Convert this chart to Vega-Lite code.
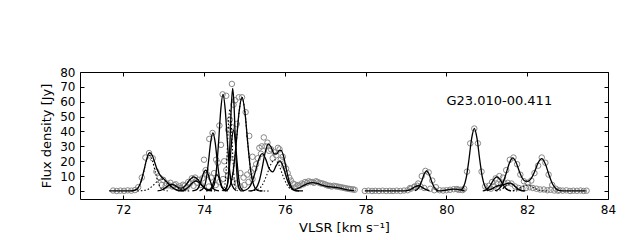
{
  "$schema": "https://vega.github.io/schema/vega-lite/v6.json",
  "width": 528,
  "height": 127,
  "autosize": {"type": "none"},
  "padding": {"left": 80, "top": 72, "right": 32, "bottom": 41},
  "background": "white",
  "config": {
    "font": "DejaVu Sans",
    "view": {"stroke": "#000", "strokeWidth": 1},
    "axis": {"grid": false, "domain": false, "tickColor": "#000", "tickSize": -4, "tickWidth": 1,
      "labelColor": "#000", "labelFont": "DejaVu Sans", "labelFontSize": 12, "labelPadding": 9,
      "labelOverlap": false, "labelFlush": false,
      "titleFont": "DejaVu Sans", "titleFontSize": 13, "titleFontWeight": "normal", "titleColor": "#000"}
  },
  "datasets": {
    "pts": [
      {"v":71.75,"f":0.3},{"v":71.84,"f":0},{"v":71.93,"f":0.2},{"v":72.02,"f":0.1},{"v":72.11,"f":0.4},{"v":72.20,"f":0.2},{"v":72.29,"f":0.6},{"v":72.37,"f":2.5},{"v":72.46,"f":9},{"v":72.55,"f":22.5},{"v":72.64,"f":25.5},{"v":72.73,"f":22},{"v":72.82,"f":13},{"v":72.90,"f":9},{"v":72.99,"f":7.5},{"v":73.08,"f":5},{"v":73.17,"f":5.5},{"v":73.26,"f":4},{"v":73.34,"f":2.5},{"v":73.43,"f":2},{"v":73.52,"f":3.5},{"v":73.61,"f":6},{"v":73.70,"f":8.5},{"v":73.78,"f":9},{"v":73.87,"f":7.5},{"v":73.96,"f":8.5},{"v":74.04,"f":14},{"v":74.13,"f":35},{"v":74.21,"f":39},{"v":74.30,"f":21},{"v":74.38,"f":44},{"v":74.46,"f":65},{"v":74.55,"f":64},{"v":74.64,"f":48},{"v":74.69,"f":72},{"v":74.77,"f":61},{"v":74.86,"f":63},{"v":74.94,"f":63},{"v":75.03,"f":53},{"v":75.12,"f":37},{"v":75.20,"f":23},{"v":75.29,"f":18},{"v":75.37,"f":29},{"v":75.43,"f":30},{"v":75.48,"f":36},{"v":75.57,"f":32.5},{"v":75.66,"f":28},{"v":75.74,"f":26},{"v":75.83,"f":29},{"v":75.90,"f":21},{"v":75.98,"f":17},{"v":76.07,"f":12},{"v":76.15,"f":7},{"v":76.24,"f":4.5},{"v":76.33,"f":4},{"v":76.42,"f":5},{"v":76.50,"f":6},{"v":76.59,"f":6.5},{"v":76.68,"f":6},{"v":76.77,"f":6.5},{"v":76.86,"f":5.5},{"v":76.94,"f":5},{"v":77.03,"f":4},{"v":77.12,"f":3.5},{"v":77.21,"f":3.5},{"v":77.29,"f":3},{"v":77.38,"f":2.5},{"v":77.47,"f":2},{"v":77.56,"f":1.5},{"v":77.64,"f":1.2},{"v":77.73,"f":0.8},
      {"v":72.95,"f":4},{"v":73.05,"f":3.5},{"v":73.13,"f":3.8},{"v":73.22,"f":3},{"v":73.30,"f":4.5},{"v":73.40,"f":3.2},{"v":73.48,"f":4.2},{"v":73.57,"f":2.5},{"v":73.65,"f":5},{"v":73.74,"f":3.5},{"v":73.83,"f":5.5},{"v":73.92,"f":4},{"v":74.00,"f":21},{"v":74.08,"f":11},{"v":74.17,"f":9},{"v":74.25,"f":12},{"v":74.34,"f":19},{"v":74.42,"f":31},{"v":74.50,"f":20},{"v":74.59,"f":10},{"v":74.60,"f":41},{"v":74.68,"f":43},{"v":74.73,"f":58},{"v":74.81,"f":45},{"v":74.90,"f":12},{"v":74.98,"f":9},{"v":75.07,"f":11},{"v":75.16,"f":13},{"v":75.25,"f":15},{"v":75.33,"f":22},{"v":75.41,"f":25},{"v":75.52,"f":30},{"v":75.61,"f":27},{"v":75.70,"f":22},{"v":75.79,"f":24},{"v":75.87,"f":28},{"v":75.95,"f":23},{"v":76.03,"f":15},{"v":76.11,"f":9},{"v":76.20,"f":5},{"v":76.28,"f":3},{"v":74.63,"f":22},{"v":74.72,"f":6},{"v":74.81,"f":5},{"v":74.55,"f":14},{"v":74.47,"f":8},{"v":74.38,"f":6},{"v":74.29,"f":4},{"v":74.12,"f":3},{"v":75.20,"f":8},{"v":75.10,"f":6},{"v":75.00,"f":4},{"v":74.90,"f":3},
      {"v":76.37,"f":3.5},{"v":76.46,"f":4.5},{"v":76.55,"f":5.5},{"v":76.64,"f":6},{"v":76.72,"f":5.5},{"v":76.81,"f":6},{"v":76.90,"f":5},{"v":76.99,"f":4.5},{"v":77.08,"f":3.5},{"v":77.16,"f":3},{"v":77.25,"f":3.2},{"v":77.34,"f":2.8},{"v":77.43,"f":2.3},{"v":77.51,"f":1.8},{"v":77.60,"f":1.4},{"v":77.69,"f":1},
      {"v":77.98,"f":0},{"v":78.07,"f":0.2},{"v":78.16,"f":0},{"v":78.24,"f":0.1},{"v":78.33,"f":0},{"v":78.42,"f":0.2},{"v":78.51,"f":0},{"v":78.60,"f":0.1},{"v":78.68,"f":0},{"v":78.77,"f":0.2},{"v":78.86,"f":0},{"v":78.95,"f":0.3},{"v":79.04,"f":0.5},{"v":79.12,"f":1.5},{"v":79.21,"f":3},{"v":79.30,"f":5},{"v":79.39,"f":10},{"v":79.48,"f":13.5},{"v":79.56,"f":12.5},{"v":79.65,"f":7},{"v":79.74,"f":2.5},{"v":79.83,"f":0.5},{"v":79.92,"f":0.3},{"v":80.00,"f":0.5},{"v":80.09,"f":0.8},{"v":80.18,"f":1.2},{"v":80.26,"f":1.3},{"v":80.35,"f":0.8},{"v":80.44,"f":1.5},{"v":80.51,"f":13},{"v":80.59,"f":32},{"v":80.69,"f":42},{"v":80.78,"f":32},{"v":80.87,"f":13},{"v":80.96,"f":3},{"v":81.05,"f":3.5},{"v":81.13,"f":6},{"v":81.22,"f":8.5},{"v":81.31,"f":10},{"v":81.40,"f":9},{"v":81.48,"f":14},{"v":81.57,"f":21},{"v":81.66,"f":22.5},{"v":81.75,"f":18},{"v":81.83,"f":11},{"v":81.92,"f":6.5},{"v":82.01,"f":5.5},{"v":82.10,"f":7},{"v":82.18,"f":12},{"v":82.27,"f":17},{"v":82.36,"f":22.5},{"v":82.45,"f":19},{"v":82.53,"f":11},{"v":82.62,"f":4},{"v":82.71,"f":1.5},{"v":82.80,"f":0.5},{"v":82.88,"f":0.2},{"v":82.97,"f":0.4},{"v":83.06,"f":0},{"v":83.14,"f":0.2},{"v":83.23,"f":0.1},{"v":83.32,"f":0.3},{"v":83.40,"f":0},{"v":83.47,"f":0.2},
      {"v":79.10,"f":2},{"v":79.20,"f":2.5},{"v":79.28,"f":3.5},{"v":79.36,"f":3},{"v":79.45,"f":2},{"v":81.10,"f":1.5},{"v":81.18,"f":3},{"v":81.27,"f":4.5},{"v":81.35,"f":5},{"v":81.44,"f":5},{"v":81.52,"f":5.5},{"v":81.61,"f":5},{"v":81.70,"f":3},{"v":81.79,"f":2},{"v":81.88,"f":1.5},{"v":81.97,"f":2},{"v":82.06,"f":2.5},{"v":82.14,"f":2},{"v":82.23,"f":1.5},{"v":82.32,"f":1},{"v":82.41,"f":1},{"v":82.50,"f":0.5},{"v":82.58,"f":0.8},{"v":82.67,"f":0.3},{"v":82.76,"f":0.2},{"v":80.30,"f":0.8},{"v":80.40,"f":0.6},{"v":79.60,"f":1.5},{"v":79.70,"f":0.5}
    ],
    "fit": [
      {"s":"s1","v":71.65,"f":0},{"s":"s1","v":72.10,"f":0},{"s":"s1","v":72.20,"f":0.05},{"s":"s1","v":72.30,"f":0.55},{"s":"s1","v":72.38,"f":2.57},{"s":"s1","v":72.45,"f":7.1},{"s":"s1","v":72.52,"f":14.6},{"s":"s1","v":72.58,"f":21.4},{"s":"s1","v":72.65,"f":25.7},{"s":"s1","v":72.72,"f":23.8},{"s":"s1","v":72.78,"f":19.1},{"s":"s1","v":72.85,"f":13.7},{"s":"s1","v":72.92,"f":10.4},{"s":"s1","v":73.00,"f":8.2},{"s":"s1","v":73.10,"f":5.45},{"s":"s1","v":73.20,"f":2.7},{"s":"s1","v":73.30,"f":0.96},{"s":"s1","v":73.40,"f":0.24},{"s":"s1","v":73.50,"f":0.04},
      {"s":"s2","v":72.85,"f":0},{"s":"s2","v":72.95,"f":0.66},{"s":"s2","v":73.05,"f":2.25},{"s":"s2","v":73.125,"f":3.78},{"s":"s2","v":73.20,"f":4.5},{"s":"s2","v":73.275,"f":3.83},{"s":"s2","v":73.35,"f":2.5},{"s":"s2","v":73.45,"f":1.9},{"s":"s2","v":73.55,"f":3.95},{"s":"s2","v":73.65,"f":7.6},{"s":"s2","v":73.75,"f":9.5},{"s":"s2","v":73.85,"f":7.6},{"s":"s2","v":73.95,"f":3.85},{"s":"s2","v":74.05,"f":1.24},{"s":"s2","v":74.15,"f":0.25},
      {"s":"s2b","v":73.35,"f":0},{"s":"s2b","v":73.48,"f":0.42},{"s":"s2b","v":73.56,"f":1.41},{"s":"s2b","v":73.64,"f":3.35},{"s":"s2b","v":73.72,"f":5.63},{"s":"s2b","v":73.80,"f":6.7},{"s":"s2b","v":73.88,"f":5.63},{"s":"s2b","v":73.96,"f":3.35},{"s":"s2b","v":74.04,"f":1.41},{"s":"s2b","v":74.12,"f":0.42},{"s":"s2b","v":74.20,"f":0.07},
      {"s":"s3","v":73.71,"f":0.03},{"s":"s3","v":73.82,"f":0.875},{"s":"s3","v":73.875,"f":2.94},{"s":"s3","v":73.93,"f":7},{"s":"s3","v":73.985,"f":11.8},{"s":"s3","v":74.04,"f":14},{"s":"s3","v":74.095,"f":11.8},{"s":"s3","v":74.15,"f":7},{"s":"s3","v":74.205,"f":2.94},{"s":"s3","v":74.26,"f":0.875},{"s":"s3","v":74.37,"f":0.03},
      {"s":"s4","v":73.89,"f":0.08},{"s":"s4","v":74.00,"f":2.44},{"s":"s4","v":74.055,"f":8.2},{"s":"s4","v":74.11,"f":19.5},{"s":"s4","v":74.165,"f":32.8},{"s":"s4","v":74.22,"f":39},{"s":"s4","v":74.275,"f":32.8},{"s":"s4","v":74.33,"f":19.5},{"s":"s4","v":74.385,"f":8.2},{"s":"s4","v":74.44,"f":2.44},{"s":"s4","v":74.55,"f":0.08},
      {"s":"s5","v":74.05,"f":0.02},{"s":"s5","v":74.14,"f":0.69},{"s":"s5","v":74.185,"f":2.3},{"s":"s5","v":74.23,"f":5.5},{"s":"s5","v":74.275,"f":9.25},{"s":"s5","v":74.32,"f":11},{"s":"s5","v":74.365,"f":9.25},{"s":"s5","v":74.41,"f":5.5},{"s":"s5","v":74.455,"f":2.3},{"s":"s5","v":74.50,"f":0.69},{"s":"s5","v":74.59,"f":0.02},
      {"s":"s6","v":74.14,"f":0.13},{"s":"s6","v":74.25,"f":4.06},{"s":"s6","v":74.305,"f":13.65},{"s":"s6","v":74.36,"f":32.5},{"s":"s6","v":74.415,"f":54.7},{"s":"s6","v":74.47,"f":65},{"s":"s6","v":74.525,"f":54.7},{"s":"s6","v":74.58,"f":32.5},{"s":"s6","v":74.635,"f":13.65},{"s":"s6","v":74.69,"f":4.06},{"s":"s6","v":74.80,"f":0.13},
      {"s":"s7","v":74.515,"f":0.13},{"s":"s7","v":74.58,"f":4.3},{"s":"s7","v":74.6125,"f":14.5},{"s":"s7","v":74.645,"f":34.5},{"s":"s7","v":74.6775,"f":58},{"s":"s7","v":74.71,"f":69},{"s":"s7","v":74.7425,"f":58},{"s":"s7","v":74.775,"f":34.5},{"s":"s7","v":74.8075,"f":14.5},{"s":"s7","v":74.84,"f":4.3},{"s":"s7","v":74.905,"f":0.13},
      {"s":"s8","v":74.475,"f":0.08},{"s":"s8","v":74.56,"f":2.56},{"s":"s8","v":74.6025,"f":8.6},{"s":"s8","v":74.645,"f":20.5},{"s":"s8","v":74.6875,"f":34.5},{"s":"s8","v":74.73,"f":41},{"s":"s8","v":74.7725,"f":34.5},{"s":"s8","v":74.815,"f":20.5},{"s":"s8","v":74.8575,"f":8.6},{"s":"s8","v":74.90,"f":2.56},{"s":"s8","v":74.985,"f":0.08},
      {"s":"s9","v":74.505,"f":0.08},{"s":"s9","v":74.5775,"f":0.83},{"s":"s9","v":74.65,"f":3.94},{"s":"s9","v":74.7225,"f":13.2},{"s":"s9","v":74.795,"f":31.5},{"s":"s9","v":74.8675,"f":53},{"s":"s9","v":74.94,"f":63},{"s":"s9","v":75.0125,"f":53},{"s":"s9","v":75.085,"f":31.5},{"s":"s9","v":75.1575,"f":13.2},{"s":"s9","v":75.23,"f":3.94},{"s":"s9","v":75.3025,"f":0.83},{"s":"s9","v":75.375,"f":0.08},{"s":"s9","v":75.45,"f":0},
      {"s":"s10","v":74.90,"f":0.03},{"s":"s10","v":74.99,"f":0.26},{"s":"s10","v":75.09,"f":1.56},{"s":"s10","v":75.1775,"f":5.25},{"s":"s10","v":75.265,"f":12.5},{"s":"s10","v":75.3525,"f":21},{"s":"s10","v":75.44,"f":25.05},{"s":"s10","v":75.5275,"f":21.4},{"s":"s10","v":75.615,"f":14.8},{"s":"s10","v":75.7025,"f":12.85},{"s":"s10","v":75.79,"f":17.2},{"s":"s10","v":75.88,"f":20.3},{"s":"s10","v":75.965,"f":16},{"s":"s10","v":76.05,"f":8.2},{"s":"s10","v":76.14,"f":2.5},{"s":"s10","v":76.25,"f":0.3},{"s":"s10","v":76.35,"f":0},
      {"s":"s11","v":75.10,"f":0},{"s":"s11","v":75.20,"f":0.28},{"s":"s11","v":75.29,"f":1.94},{"s":"s11","v":75.365,"f":6.5},{"s":"s11","v":75.44,"f":15.5},{"s":"s11","v":75.515,"f":26.1},{"s":"s11","v":75.59,"f":31.7},{"s":"s11","v":75.665,"f":29.2},{"s":"s11","v":75.74,"f":24.9},{"s":"s11","v":75.80,"f":25.0},{"s":"s11","v":75.86,"f":27.1},{"s":"s11","v":75.91,"f":27.3},{"s":"s11","v":75.97,"f":23.2},{"s":"s11","v":76.04,"f":14.3},{"s":"s11","v":76.11,"f":6.3},{"s":"s11","v":76.18,"f":2.0},{"s":"s11","v":76.28,"f":0.2},{"s":"s11","v":76.45,"f":0},
      {"s":"s12","v":76.25,"f":1.0},{"s":"s12","v":76.35,"f":2.0},{"s":"s12","v":76.45,"f":3.4},{"s":"s12","v":76.55,"f":4.7},{"s":"s12","v":76.68,"f":5.56},{"s":"s12","v":76.80,"f":5.05},{"s":"s12","v":76.92,"f":3.9},{"s":"s12","v":77.05,"f":3.0},{"s":"s12","v":77.18,"f":2.6},{"s":"s12","v":77.30,"f":2.3},{"s":"s12","v":77.42,"f":1.6},{"s":"s12","v":77.55,"f":0.81},{"s":"s12","v":77.72,"f":0.19},
      {"s":"s13","v":77.98,"f":0},{"s":"s13","v":78.60,"f":0},{"s":"s13","v":78.95,"f":0.05},{"s":"s13","v":79.02,"f":0.22},{"s":"s13","v":79.09,"f":0.74},{"s":"s13","v":79.16,"f":1.75},{"s":"s13","v":79.23,"f":2.94},{"s":"s13","v":79.30,"f":3.5},{"s":"s13","v":79.37,"f":2.94},{"s":"s13","v":79.44,"f":1.75},{"s":"s13","v":79.51,"f":0.74},{"s":"s13","v":79.58,"f":0.22},
      {"s":"s14","v":79.22,"f":0.23},{"s":"s14","v":79.27,"f":0.84},{"s":"s14","v":79.33,"f":2.84},{"s":"s14","v":79.39,"f":6.75},{"s":"s14","v":79.45,"f":11.35},{"s":"s14","v":79.51,"f":13.5},{"s":"s14","v":79.57,"f":11.35},{"s":"s14","v":79.63,"f":6.75},{"s":"s14","v":79.69,"f":2.84},{"s":"s14","v":79.75,"f":0.84},{"s":"s14","v":79.80,"f":0.2},
      {"s":"s15","v":79.75,"f":0},{"s":"s15","v":79.85,"f":0.1},{"s":"s15","v":79.95,"f":0.39},{"s":"s15","v":80.05,"f":0.89},{"s":"s15","v":80.18,"f":1.3},{"s":"s15","v":80.30,"f":0.94},{"s":"s15","v":80.40,"f":0.43},{"s":"s15","v":80.45,"f":0.3},
      {"s":"s16","v":80.35,"f":0.5},{"s":"s16","v":80.4225,"f":2.6},{"s":"s16","v":80.49,"f":8.8},{"s":"s16","v":80.5575,"f":21},{"s":"s16","v":80.625,"f":35.3},{"s":"s16","v":80.69,"f":42},{"s":"s16","v":80.7575,"f":35.3},{"s":"s16","v":80.825,"f":21},{"s":"s16","v":80.8925,"f":8.8},{"s":"s16","v":80.96,"f":2.6},{"s":"s16","v":81.03,"f":0.5},
      {"s":"s17","v":80.90,"f":0.1},{"s":"s17","v":80.97,"f":0.59},{"s":"s17","v":81.04,"f":2.0},{"s":"s17","v":81.11,"f":4.75},{"s":"s17","v":81.18,"f":8.0},{"s":"s17","v":81.25,"f":9.5},{"s":"s17","v":81.32,"f":8.0},{"s":"s17","v":81.39,"f":4.75},{"s":"s17","v":81.46,"f":2.0},{"s":"s17","v":81.53,"f":0.59},{"s":"s17","v":81.60,"f":0.12},
      {"s":"s18","v":81.00,"f":0.22},{"s":"s18","v":81.10,"f":1.02},{"s":"s18","v":81.20,"f":2.6},{"s":"s18","v":81.30,"f":3.81},{"s":"s18","v":81.38,"f":4.08},{"s":"s18","v":81.46,"f":4.6},{"s":"s18","v":81.53,"f":5.27},{"s":"s18","v":81.58,"f":5.31},{"s":"s18","v":81.65,"f":4.3},{"s":"s18","v":81.72,"f":2.5},{"s":"s18","v":81.80,"f":0.9},{"s":"s18","v":81.88,"f":0.2},{"s":"s18","v":81.95,"f":0.05},
      {"s":"s19","v":81.20,"f":0.21},{"s":"s19","v":81.30,"f":1.375},{"s":"s19","v":81.385,"f":4.62},{"s":"s19","v":81.47,"f":11},{"s":"s19","v":81.555,"f":18.55},{"s":"s19","v":81.64,"f":22.2},{"s":"s19","v":81.725,"f":19.2},{"s":"s19","v":81.81,"f":12.8},{"s":"s19","v":81.88,"f":8.55},{"s":"s19","v":81.95,"f":6.6},{"s":"s19","v":82.02,"f":6.5},{"s":"s19","v":82.10,"f":8.4},{"s":"s19","v":82.18,"f":12.7},{"s":"s19","v":82.27,"f":18.9},{"s":"s19","v":82.36,"f":21.7},{"s":"s19","v":82.45,"f":18.1},{"s":"s19","v":82.54,"f":10.75},{"s":"s19","v":82.63,"f":4.5},{"s":"s19","v":82.72,"f":1.34},{"s":"s19","v":82.81,"f":0.28},{"s":"s19","v":82.95,"f":0.01},{"s":"s19","v":83.10,"f":0},{"s":"s19","v":83.45,"f":0}
    ],
    "comp": [
      {"s":"d1","v":72.20,"f":0.05},{"s":"d1","v":72.35,"f":1.5},{"s":"d1","v":72.425,"f":5.0},{"s":"d1","v":72.50,"f":12},{"s":"d1","v":72.575,"f":20.2},{"s":"d1","v":72.65,"f":24},{"s":"d1","v":72.725,"f":20.2},{"s":"d1","v":72.80,"f":12},{"s":"d1","v":72.875,"f":5.0},{"s":"d1","v":72.95,"f":1.5},{"s":"d1","v":73.10,"f":0.05},
      {"s":"d2","v":72.35,"f":0.02},{"s":"d2","v":72.55,"f":0.5},{"s":"d2","v":72.65,"f":1.68},{"s":"d2","v":72.75,"f":4.0},{"s":"d2","v":72.85,"f":6.7},{"s":"d2","v":72.95,"f":8},{"s":"d2","v":73.05,"f":6.7},{"s":"d2","v":73.15,"f":4.0},{"s":"d2","v":73.25,"f":1.68},{"s":"d2","v":73.35,"f":0.5},{"s":"d2","v":73.55,"f":0.02},
      {"s":"d3","v":72.90,"f":0.28},{"s":"d3","v":72.975,"f":0.95},{"s":"d3","v":73.05,"f":2.25},{"s":"d3","v":73.125,"f":3.78},{"s":"d3","v":73.20,"f":4.5},{"s":"d3","v":73.275,"f":3.78},{"s":"d3","v":73.35,"f":2.25},{"s":"d3","v":73.425,"f":0.95},{"s":"d3","v":73.50,"f":0.28},{"s":"d3","v":73.65,"f":0.01},
      {"s":"d4","v":73.40,"f":0.59},{"s":"d4","v":73.4875,"f":2.0},{"s":"d4","v":73.575,"f":4.75},{"s":"d4","v":73.6625,"f":8.0},{"s":"d4","v":73.75,"f":9.5},{"s":"d4","v":73.8375,"f":8.0},{"s":"d4","v":73.925,"f":4.75},{"s":"d4","v":74.0125,"f":2.0},{"s":"d4","v":74.10,"f":0.59},{"s":"d4","v":74.275,"f":0.02},
      {"s":"d5","v":74.445,"f":0.1},{"s":"d5","v":74.51,"f":3.4},{"s":"d5","v":74.5425,"f":11.6},{"s":"d5","v":74.575,"f":27.5},{"s":"d5","v":74.6075,"f":46.3},{"s":"d5","v":74.64,"f":55},{"s":"d5","v":74.6725,"f":46.3},{"s":"d5","v":74.705,"f":27.5},{"s":"d5","v":74.7375,"f":11.6},{"s":"d5","v":74.77,"f":3.4},{"s":"d5","v":74.835,"f":0.1},
      {"s":"d6","v":75.15,"f":0.04},{"s":"d6","v":75.35,"f":1.3},{"s":"d6","v":75.45,"f":4.4},{"s":"d6","v":75.55,"f":10.5},{"s":"d6","v":75.65,"f":17.7},{"s":"d6","v":75.75,"f":21},{"s":"d6","v":75.85,"f":17.7},{"s":"d6","v":75.95,"f":10.5},{"s":"d6","v":76.05,"f":4.4},{"s":"d6","v":76.15,"f":1.3},{"s":"d6","v":76.35,"f":0.04},
      {"s":"d7","v":74.5775,"f":0.83},{"s":"d7","v":74.65,"f":3.94},{"s":"d7","v":74.7225,"f":13.2},{"s":"d7","v":74.795,"f":31.5},{"s":"d7","v":74.8675,"f":53},{"s":"d7","v":74.94,"f":63},{"s":"d7","v":75.0125,"f":53},{"s":"d7","v":75.085,"f":31.5},{"s":"d7","v":75.1575,"f":13.2},{"s":"d7","v":75.23,"f":3.94},{"s":"d7","v":75.3025,"f":0.83},{"s":"d7","v":75.375,"f":0.08},{"s":"d7","v":75.60,"f":0},
      {"s":"d8","v":81.00,"f":0.22},{"s":"d8","v":81.075,"f":0.74},{"s":"d8","v":81.15,"f":1.75},{"s":"d8","v":81.225,"f":2.94},{"s":"d8","v":81.30,"f":3.5},{"s":"d8","v":81.375,"f":2.94},{"s":"d8","v":81.45,"f":1.75},{"s":"d8","v":81.525,"f":0.74},{"s":"d8","v":81.60,"f":0.22},{"s":"d8","v":81.75,"f":0},
      {"s":"d9","v":81.23,"f":0.06},{"s":"d9","v":81.30,"f":0.31},{"s":"d9","v":81.37,"f":1.05},{"s":"d9","v":81.44,"f":2.5},{"s":"d9","v":81.51,"f":4.2},{"s":"d9","v":81.58,"f":5},{"s":"d9","v":81.65,"f":4.2},{"s":"d9","v":81.72,"f":2.5},{"s":"d9","v":81.79,"f":1.05},{"s":"d9","v":81.86,"f":0.31},{"s":"d9","v":81.93,"f":0.06},
      {"s":"d10","v":81.65,"f":0.25},{"s":"d10","v":81.7375,"f":0.84},{"s":"d10","v":81.825,"f":2.0},{"s":"d10","v":81.9125,"f":3.36},{"s":"d10","v":82.0,"f":4},{"s":"d10","v":82.0875,"f":3.36},{"s":"d10","v":82.175,"f":2.0},{"s":"d10","v":82.2625,"f":0.84},{"s":"d10","v":82.35,"f":0.25},{"s":"d10","v":82.50,"f":0.01}
    ],
    "lab": [{"v":80.0,"f":60.5,"t":"G23.010-00.411"}]
  },
  "layer": [
    {
      "data": {"name": "pts"},
      "mark": {"type": "point", "shape": "circle", "filled": false, "size": 30, "stroke": "#888888", "strokeWidth": 1, "opacity": 1},
      "encoding": {
        "x": {"field": "v", "type": "quantitative", "scale": {"domain": [70.93, 84], "nice": false, "zero": false},
          "axis": {"orient": "bottom", "values": [72,74,76,78,80,82,84], "title": "VLSR [km s⁻¹]", "titlePadding": 6}},
        "y": {"field": "f", "type": "quantitative", "scale": {"domain": [-5.4, 80], "nice": false, "zero": false},
          "axis": {"orient": "left", "values": [0,10,20,30,40,50,60,70,80], "title": "Flux density [Jy]", "titlePadding": 6}}
      }
    },
    {
      "data": {"name": "comp"},
      "mark": {"type": "line", "color": "#000", "strokeWidth": 1.1, "strokeDash": [1.5, 2], "interpolate": "monotone"},
      "encoding": {
        "x": {"field": "v", "type": "quantitative", "scale": {"domain": [70.93, 84], "nice": false, "zero": false}, "axis": null},
        "y": {"field": "f", "type": "quantitative", "scale": {"domain": [-5.4, 80], "nice": false, "zero": false}, "axis": null},
        "detail": {"field": "s"}
      }
    },
    {
      "data": {"name": "fit"},
      "mark": {"type": "line", "color": "#000", "strokeWidth": 1.3, "interpolate": "monotone"},
      "encoding": {
        "x": {"field": "v", "type": "quantitative", "scale": {"domain": [70.93, 84], "nice": false, "zero": false}, "axis": null},
        "y": {"field": "f", "type": "quantitative", "scale": {"domain": [-5.4, 80], "nice": false, "zero": false}, "axis": null},
        "detail": {"field": "s"}
      }
    },
    {
      "data": {"name": "lab"},
      "mark": {"type": "text", "align": "left", "baseline": "middle", "font": "DejaVu Sans", "fontSize": 13, "color": "#000"},
      "encoding": {
        "x": {"field": "v", "type": "quantitative", "scale": {"domain": [70.93, 84], "nice": false, "zero": false},
          "axis": {"orient": "top", "values": [72,74,76,78,80,82,84], "labels": false, "title": null}},
        "y": {"field": "f", "type": "quantitative", "scale": {"domain": [-5.4, 80], "nice": false, "zero": false},
          "axis": {"orient": "right", "values": [0,10,20,30,40,50,60,70,80], "labels": false, "title": null}},
        "text": {"field": "t"}
      }
    }
  ],
  "resolve": {"axis": {"x": "independent", "y": "independent"}}
}
